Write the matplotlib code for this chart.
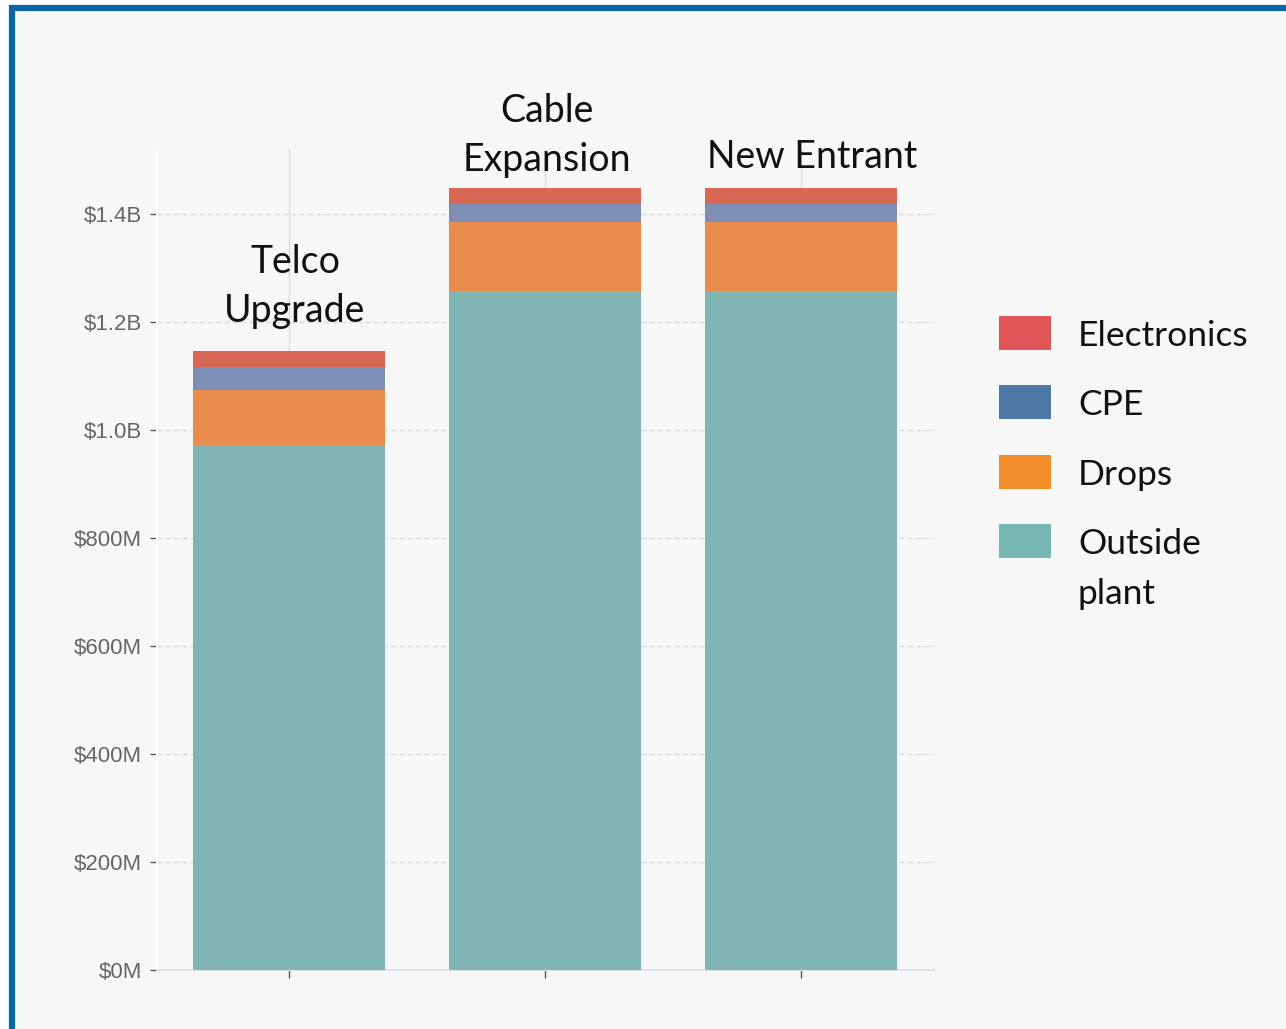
import matplotlib
matplotlib.use("Agg")
import matplotlib.pyplot as plt
from matplotlib.patches import Rectangle
from matplotlib.ticker import FixedLocator, FixedFormatter

# values in $M
scenarios = ["Telco\nUpgrade", "Cable\nExpansion", "New Entrant"]
outside_plant = [972, 1257, 1257]
drops = [102, 128, 128]
cpe = [42, 34, 34]
electronics = [30, 28, 28]

series_names = ["Outside plant", "Drops", "CPE", "Electronics"]
legend_names = ["Electronics", "CPE", "Drops", "Outside\nplant"]

y_ticks = [0, 200, 400, 600, 800, 1000, 1200, 1400]
y_tick_labels = ["$0M", "$200M", "$400M", "$600M", "$800M", "$1.0B", "$1.2B", "$1.4B"]

bar_colors = {"Outside plant": "#80b5b3", "Drops": "#e98c4d",
              "CPE": "#7d8fb5", "Electronics": "#d86753"}
legend_colors = {"Electronics": "#e15759", "CPE": "#4e79a7",
                 "Drops": "#f28e2b", "Outside\nplant": "#76b7b2"}

W, H = 1286, 1029
LINE_PX = 50  # distance between text lines, pixels

fig = plt.figure(figsize=(W / 100, H / 100), dpi=100, facecolor="white")

# panel background with blue frame (only top/left edges visible)
fig.patches.append(Rectangle((12 / W, -0.1), 1.2, 0.1 + (H - 7.5) / H,
                             transform=fig.transFigure, facecolor="#f7f7f7",
                             edgecolor="#0b64a5", linewidth=4.5, zorder=-10))

ax = fig.add_axes([157 / W, (H - 970) / H, 777 / W, 821 / H])
ax.set_facecolor("none")

x = list(range(len(scenarios)))
data = {"Outside plant": outside_plant, "Drops": drops, "CPE": cpe, "Electronics": electronics}
bottom = [0] * len(x)
for name in series_names:
    vals = data[name]
    ax.bar(x, vals, width=0.752, bottom=bottom, color=bar_colors[name],
           edgecolor="none", zorder=3)
    bottom = [b + v for b, v in zip(bottom, vals)]
totals = bottom

# scenario labels above the bars (offset = last baseline above bar top)
label_offsets = [(6, 29), (2, 17), (11, 20)]
for i, (lab, (dx, dy)) in enumerate(zip(scenarios, label_offsets)):
    ax.annotate(lab, xy=(i, totals[i]), xytext=(dx, dy), textcoords="offset pixels",
                ha="center", va="baseline", multialignment="center",
                fontsize=27, family="Lato", color="#111111", linespacing=1.45,
                annotation_clip=False, zorder=5)

ax.set_xlim(-0.516, 2.52)
ax.set_ylim(0, 1520)
ax.set_xticks(x)
ax.set_xticklabels([])
ax.yaxis.set_major_locator(FixedLocator(y_ticks))
ax.yaxis.set_major_formatter(FixedFormatter(y_tick_labels))

ax.tick_params(axis="y", length=5, width=1, color="#555555", pad=6,
               labelsize=16, labelcolor="#666666")
ax.tick_params(axis="x", length=6, width=1, color="#555555")
for t in ax.get_yticklabels():
    t.set_family("Liberation Sans")

ax.set_axisbelow(True)
ax.grid(axis="y", color="#dddddd", linewidth=1, linestyle=(0, (4, 2)))
ax.grid(axis="x", color="#dcdcdc", linewidth=1)

for s in ("top", "right"):
    ax.spines[s].set_visible(False)
ax.spines["left"].set_color("#ffffff")
ax.spines["left"].set_linewidth(1.5)
ax.spines["bottom"].set_color("#e2e2e2")
ax.spines["bottom"].set_linewidth(1.5)

# legend, drawn by hand
row_centers = [333, 402, 472, 541]
for name, yc in zip(legend_names, row_centers):
    fig.patches.append(Rectangle((999 / W, (H - yc - 17) / H), 52 / W, 34 / H,
                                 transform=fig.transFigure,
                                 facecolor=legend_colors[name], edgecolor="none"))
    n_extra = name.count("\n")
    fig.text(1078 / W, (H - yc - 13 - n_extra * LINE_PX) / H, name, ha="left",
             va="baseline", fontsize=25.5, family="Lato", color="#111111",
             linespacing=1.7)

fig.savefig("out.png", dpi=100, facecolor=fig.get_facecolor())
